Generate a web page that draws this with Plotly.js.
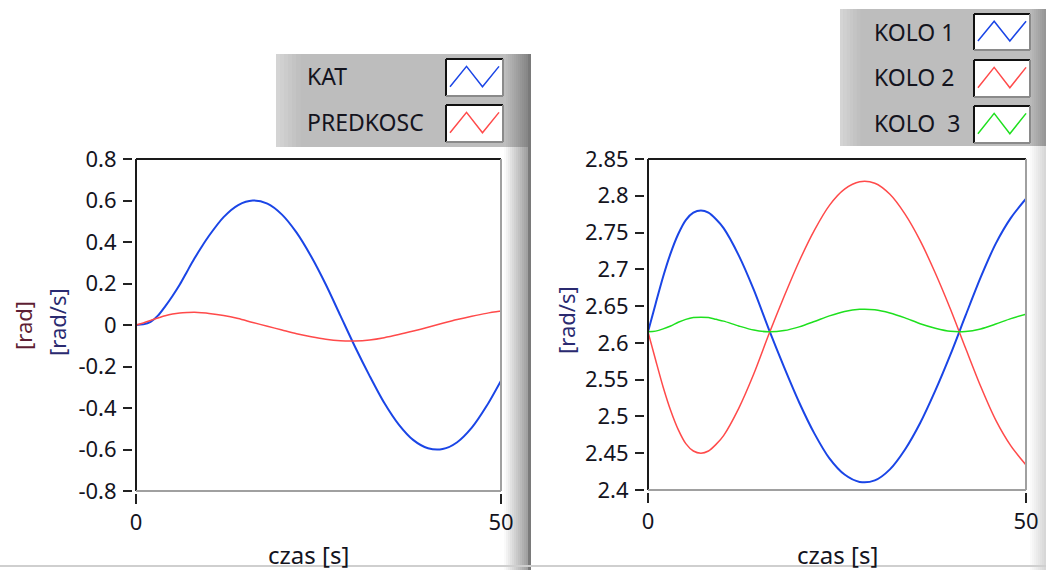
<!DOCTYPE html>
<html>
<head>
<meta charset="utf-8">
<script src="https://cdn.plot.ly/plotly-3.0.1.min.js"></script>
<style>html,body{margin:0;padding:0;background:#fff;}#chart{width:1046px;height:570px;}</style>
</head>
<body>
<div id="chart"></div>
<script>
// ---------- DATA ----------
const timeS = [0,1,2,3,4,5,6,7,8,9,10,12,14,16,18,20,22,24,26,28,30,32,34,36,38,40,42,44,46,48,50];

// left graph
const katRad = [0,0.003,0.015,0.045,0.09,0.14,0.195,0.258,0.32,0.377,0.43,0.52,0.578,0.6,0.585,0.532,0.445,0.33,0.195,0.045,-0.105,-0.245,-0.375,-0.48,-0.555,-0.594,-0.598,-0.565,-0.495,-0.392,-0.268];
const predkoscRadS = [0,0.01,0.022,0.034,0.045,0.053,0.058,0.06,0.061,0.059,0.056,0.046,0.031,0.012,-0.006,-0.024,-0.042,-0.057,-0.069,-0.076,-0.077,-0.072,-0.061,-0.046,-0.029,-0.011,0.008,0.026,0.042,0.056,0.067];

// right graph
const kolo1 = [2.615,2.653,2.690,2.722,2.748,2.767,2.777,2.780,2.777,2.768,2.756,2.719,2.672,2.618,2.567,2.519,2.477,2.443,2.421,2.411,2.413,2.428,2.455,2.491,2.535,2.584,2.637,2.689,2.735,2.770,2.796];
const kolo2 = [2.615,2.577,2.540,2.508,2.482,2.463,2.453,2.450,2.453,2.462,2.474,2.511,2.558,2.612,2.663,2.711,2.753,2.787,2.809,2.819,2.817,2.802,2.775,2.739,2.695,2.646,2.593,2.541,2.495,2.460,2.434];
const kolo3 = [2.615,2.616,2.619,2.623,2.628,2.632,2.6345,2.635,2.6345,2.632,2.6296,2.623,2.6174,2.615,2.6167,2.6218,2.629,2.6367,2.6427,2.6456,2.645,2.6407,2.634,2.626,2.620,2.6157,2.6154,2.619,2.6256,2.633,2.639];

const xTickVals = [0,50];
const xTickText = ["0","50"];
const leftYTickVals = [-0.8,-0.6,-0.4,-0.2,0,0.2,0.4,0.6,0.8];
const leftYTickText = ["-0.8","-0.6","-0.4","-0.2","0","0.2","0.4","0.6","0.8"];
const rightYTickVals = [2.4,2.45,2.5,2.55,2.6,2.65,2.7,2.75,2.8,2.85];
const rightYTickText = ["2.4","2.45","2.5","2.55","2.6","2.65","2.7","2.75","2.8","2.85"];

const leftLegendNames = ["KAT","PREDKOSC"];
const rightLegendNames = ["KOLO 1","KOLO 2","KOLO&nbsp;&nbsp;3"];
const xTitle = "czas [s]";

// ---------- STYLE ----------
const W = 1046, H = 570;
const px = x => x / W;
const py = y => 1 - y / H;
const BLUE = "#1a45e6", RED = "#ff4a4a", GREEN = "#1ee01e";
const FONT = "Noto Sans, DejaVu Sans, sans-serif";
const TXT = "#14141e";

const traces = [
  {x: timeS, y: katRad, xaxis: "x", yaxis: "y", mode: "lines", line: {color: BLUE, width: 2, shape: "spline", smoothing: 0.8}, name: leftLegendNames[0]},
  {x: timeS, y: predkoscRadS, xaxis: "x", yaxis: "y", mode: "lines", line: {color: RED, width: 1.5, shape: "spline", smoothing: 0.8}, name: leftLegendNames[1]},
  {x: timeS, y: kolo1, xaxis: "x2", yaxis: "y2", mode: "lines", line: {color: BLUE, width: 2, shape: "spline", smoothing: 0.8}, name: rightLegendNames[0]},
  {x: timeS, y: kolo2, xaxis: "x2", yaxis: "y2", mode: "lines", line: {color: RED, width: 1.5, shape: "spline", smoothing: 0.8}, name: rightLegendNames[1]},
  {x: timeS, y: kolo3, xaxis: "x2", yaxis: "y2", mode: "lines", line: {color: GREEN, width: 1.5, shape: "spline", smoothing: 0.8}, name: rightLegendNames[2]}
];

const tickFont = {family: FONT, size: 22, color: TXT};
function xAx(d0, d1, yPos) {
  return {domain: [px(d0), px(d1)], range: [0, 50], tickvals: xTickVals, ticktext: xTickText,
    ticks: "outside", ticklen: 10, tickwidth: 2, tickcolor: "#222", showline: false, showgrid: false,
    zeroline: false, anchor: "free", position: py(yPos), tickfont: tickFont, fixedrange: true, ticklabelstandoff: 0};
}
function yAx(top, bot, xPos, rng, tv, tt) {
  return {domain: [py(bot), py(top)], range: rng, tickvals: tv, ticktext: tt,
    ticks: "outside", ticklen: 9, tickwidth: 2, tickcolor: "#222", showline: false, showgrid: false,
    zeroline: false, anchor: "free", position: px(xPos), tickfont: tickFont, fixedrange: true, ticklabelstandoff: 2};
}

const shapes = [];
function rect(x0, y0, x1, y1, fill, layer) {
  shapes.push({type: "rect", xref: "paper", yref: "paper", x0: px(x0), x1: px(x1), y0: py(y1), y1: py(y0),
    fillcolor: fill, line: {width: 0}, layer: layer || "below"});
}
function line(x0, y0, x1, y1, color, w) {
  shapes.push({type: "line", xref: "paper", yref: "paper", x0: px(x0), x1: px(x1), y0: py(y0), y1: py(y1),
    line: {color: color, width: w}, layer: "above"});
}
function hex(v) { const h = Math.round(v).toString(16); return h.length < 2 ? "0" + h : h; }
function gray(v) { return "#" + hex(v) + hex(v) + hex(v); }
function gradient(x0, x1, y0, y1, v0, v1, steps) {
  const dw = (x1 - x0) / steps;
  for (let i = 0; i < steps; i++) {
    const v = v0 + (v1 - v0) * i / (steps - 1);
    rect(x0 + i * dw, y0, x0 + (i + 1) * dw + 0.5, y1, gray(v));
  }
}

// left panel edge
gradient(504, 528, 147, 570, 250, 160, 12);
// left legend panel
rect(276, 54, 530, 147, "#bdbdbd");
gradient(276, 300, 54, 147, 212, 192, 6);
gradient(504, 528, 54, 147, 190, 135, 12);
rect(528, 54, 531, 570, "#7a7a7a");
// right legend panel
rect(840, 9, 1046, 146, "#bdbdbd");
gradient(840, 860, 9, 146, 212, 192, 6);
gradient(1030, 1046, 9, 146, 185, 150, 8);
// right panel edge
gradient(1030, 1046, 146, 570, 250, 215, 8);
// bottom line
rect(0, 565, 1046, 567, "#cfcfcf");

// plot frames
function frame(l, t, r, b) {
  line(l, t, r, t, "#1a1a1a", 2);
  line(l, t, l, b, "#1a1a1a", 2);
  line(r, t, r, b, "#a0a0a0", 2);
  line(l, b, r, b, "#a0a0a0", 2);
}
frame(136, 159, 501, 491);
frame(648, 159, 1026, 490);

// legend swatches
function swatch(x0, y0, x1, y1, color) {
  rect(x0, y0, x1, y1, "#ffffff");
  line(x0, y0, x1, y0, "#111", 2);
  line(x0, y0, x0, y1, "#111", 2);
  line(x1, y0, x1, y1, "#8a8a8a", 2);
  line(x0, y1, x1, y1, "#8a8a8a", 2);
  const w = x1 - x0, h = y1 - y0;
  const pts = [[x0 + 0.07 * w, y0 + 0.75 * h], [x0 + 0.36 * w, y0 + 0.2 * h], [x0 + 0.64 * w, y0 + 0.75 * h], [x0 + 0.93 * w, y0 + 0.2 * h]];
  const path = pts.map((p, i) => (i ? "L" : "M") + px(p[0]).toFixed(5) + "," + py(p[1]).toFixed(5)).join(" ");
  shapes.push({type: "path", xref: "paper", yref: "paper", path: path, line: {color: color, width: 1.5}, layer: "above"});
}
swatch(446, 59, 503, 96, BLUE);
swatch(446, 105, 503, 142, RED);
swatch(974, 14, 1030, 50, BLUE);
swatch(974, 60, 1030, 97, RED);
swatch(974, 106, 1030, 143, GREEN);

const legFont = {family: FONT, size: 23, color: TXT};
function ann(text, x, y, font, extra) {
  return Object.assign({text: text, x: px(x), y: py(y), xref: "paper", yref: "paper", xanchor: "center", yanchor: "middle", showarrow: false, font: font}, extra || {});
}
const annotations = [
  ann(leftLegendNames[0], 305, 76, legFont, {xanchor: "left"}),
  ann(leftLegendNames[1], 305, 122, legFont, {xanchor: "left"}),
  ann(rightLegendNames[0], 872, 32, legFont, {xanchor: "left"}),
  ann(rightLegendNames[1], 872, 77, legFont, {xanchor: "left"}),
  ann(rightLegendNames[2], 872, 123, legFont, {xanchor: "left"}),
  ann("[rad]", 23, 326, {family: FONT, size: 22, color: "#5e1e34"}, {textangle: -90}),
  ann("[rad/s]", 57, 322, {family: FONT, size: 22, color: "#2a2a70"}, {textangle: -90}),
  ann("[rad/s]", 566, 320, {family: FONT, size: 22, color: "#2a2a70"}, {textangle: -90}),
  ann(xTitle, 308, 554, {family: FONT, size: 24, color: TXT}),
  ann(xTitle, 837, 554, {family: FONT, size: 24, color: TXT})
];

const layout = {
  width: W, height: H, margin: {l: 0, r: 0, t: 0, b: 0},
  paper_bgcolor: "#ffffff", plot_bgcolor: "rgba(0,0,0,0)", showlegend: false,
  xaxis: xAx(136, 501, 493),
  yaxis: yAx(159, 491, 132, [-0.8, 0.8], leftYTickVals, leftYTickText),
  xaxis2: xAx(648, 1026, 492),
  yaxis2: yAx(159, 490, 644, [2.4, 2.85], rightYTickVals, rightYTickText),
  shapes: shapes, annotations: annotations
};
Plotly.newPlot("chart", traces, layout, {displayModeBar: false, staticPlot: true});
</script>
</body>
</html>
